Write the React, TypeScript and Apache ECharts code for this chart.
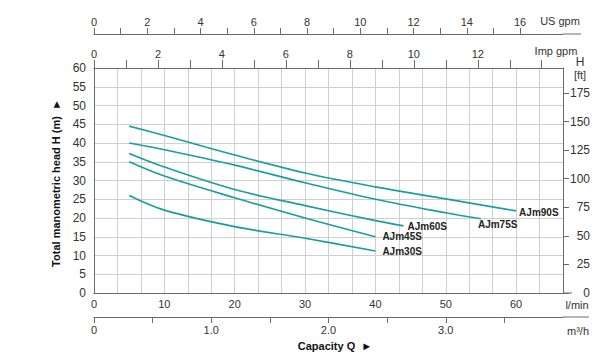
import React, { useEffect, useRef } from "react";
import * as echarts from "echarts";

// Capacity in l/min, head in m
const q90 = [5, 10, 20, 30, 40, 50, 60];
const h90 = [44.5, 42.0, 36.8, 32.0, 28.3, 25.1, 21.9];
const q75 = [5, 10, 20, 30, 40, 50, 55];
const h75 = [40.0, 38.2, 34.1, 29.4, 25.0, 21.4, 19.8];
const q60 = [5, 10, 20, 30, 40, 44];
const h60 = [37.2, 33.6, 27.6, 23.3, 19.3, 17.9];
const q45 = [5, 10, 20, 30, 40];
const h45 = [35.0, 31.2, 25.4, 20.0, 15.0];
const q30 = [5, 10, 20, 30, 40];
const h30 = [26.0, 22.1, 17.7, 14.6, 11.2];

const seriesNames = ["AJm90S", "AJm75S", "AJm60S", "AJm45S", "AJm30S"];

const lminLabels = [0, 10, 20, 30, 40, 50, 60];
const m3hTicks = [0, 0.5, 1, 1.5, 2, 2.5, 3, 3.5];
const m3hLabels = [0, 1, 2, 3];
const usTicks = [0, 1, 2, 3, 4, 5, 6, 7, 8, 9, 10, 11, 12, 13, 14, 15, 16];
const usLabels = [0, 2, 4, 6, 8, 10, 12, 14, 16];
const impTicks = [0, 1, 2, 3, 4, 5, 6, 7, 8, 9, 10, 11, 12, 13, 14];
const impLabels = [0, 2, 4, 6, 8, 10, 12];
const ftTicks = [0, 25, 50, 75, 100, 125, 150, 175];

const LMIN_MAX = 200 / 3; // 4 m3/h
const H_MAX = 60;

const FONT = "'Liberation Sans', Arial, sans-serif";
const AXIS_COLOR = "#6a6a6a";
const GRID_COLOR = "#cfcfcf";
const TEXT_COLOR = "#333";
const CURVE_COLOR = "#1b9ea0";

export default function App() {
  const ref = useRef<HTMLDivElement>(null);

  useEffect(() => {
    if (!ref.current) return;
    const chart = echarts.init(ref.current, undefined, { renderer: "svg" });

    const GL = 94, GT = 68, GR = 563, GB = 293;

    const pairs = [
      [q90, h90],
      [q75, h75],
      [q60, h60],
      [q45, h45],
      [q30, h30],
    ];
    const offsets = [
      [3, 2],
      [-3, 6],
      [4, 1],
      [7, 0],
      [7, 0],
    ];

    const series = pairs.map(([q, h], i) => ({
      name: seriesNames[i],
      type: "line",
      xAxisIndex: 0,
      yAxisIndex: 0,
      data: q.map((x, j) => [x, h[j]]),
      smooth: 0.35,
      showSymbol: false,
      lineStyle: { color: CURVE_COLOR, width: 1.7 },
      itemStyle: { color: CURVE_COLOR },
      endLabel: {
        show: true,
        formatter: seriesNames[i],
        distance: 0,
        offset: offsets[i],
        fontSize: 10,
        fontWeight: "bold",
        color: "#222",
        fontFamily: FONT,
      },
      z: 5,
    }));

    function txt(size: number) {
      return { fontSize: size, fill: TEXT_COLOR, fontFamily: FONT };
    }

    const labelBase = { fontSize: 11, color: TEXT_COLOR, fontFamily: FONT };
    const lineOn = { show: true, onZero: false, lineStyle: { color: AXIS_COLOR, width: 1 } };

    const option: any = {
      animation: false,
      backgroundColor: "#fff",
      grid: { left: GL, top: GT, width: GR - GL, height: GB - GT, containLabel: false },
      xAxis: [
        {
          // l/min main axis
          type: "value",
          position: "bottom",
          min: 0,
          max: LMIN_MAX,
          interval: 10,
          axisLine: lineOn,
          axisTick: { show: false },
          axisLabel: {
            ...labelBase,
            margin: 5,
            customValues: lminLabels,
            formatter: (v: number) => String(Math.round(v)),
          },
          splitLine: { show: false },
        },
        {
          // m3/h secondary axis
          type: "value",
          position: "bottom",
          offset: 24,
          min: 0,
          max: 4,
          interval: 0.5,
          axisLine: lineOn,
          axisTick: { show: true, length: 6, customValues: m3hTicks, lineStyle: { color: AXIS_COLOR } },
          axisLabel: {
            ...labelBase,
            margin: 7,
            customValues: m3hLabels,
            formatter: (v: number) => (v === 0 ? "0" : v.toFixed(1)),
          },
          splitLine: { show: false },
        },
        {
          // gridlines every 0.2 m3/h
          type: "value",
          position: "bottom",
          min: 0,
          max: 4,
          interval: 0.2,
          axisLine: { show: false, onZero: false },
          axisTick: { show: false },
          axisLabel: { show: false },
          splitLine: { show: true, lineStyle: { color: GRID_COLOR, width: 1 } },
        },
        {
          // Imp gpm
          type: "value",
          position: "top",
          offset: 0,
          min: 0,
          max: LMIN_MAX / 4.54609,
          interval: 1,
          axisLine: lineOn,
          axisTick: { show: true, length: 8, customValues: impTicks, lineStyle: { color: AXIS_COLOR } },
          axisLabel: { ...labelBase, margin: 9, customValues: impLabels },
          splitLine: { show: false },
        },
        {
          // US gpm
          type: "value",
          position: "top",
          offset: 34,
          min: 0,
          max: LMIN_MAX / 3.78541,
          interval: 1,
          axisLine: lineOn,
          axisTick: { show: true, length: 6, customValues: usTicks, lineStyle: { color: AXIS_COLOR } },
          axisLabel: { ...labelBase, margin: 7, customValues: usLabels },
          splitLine: { show: false },
        },
      ],
      yAxis: [
        {
          type: "value",
          position: "left",
          min: 0,
          max: H_MAX,
          interval: 5,
          axisLine: lineOn,
          axisTick: { show: false },
          axisLabel: { ...labelBase, fontSize: 12, margin: 8 },
          splitLine: { show: true, lineStyle: { color: GRID_COLOR, width: 1 } },
        },
        {
          type: "value",
          position: "right",
          min: 0,
          max: H_MAX * 3.28084,
          interval: 25,
          axisLine: lineOn,
          axisTick: { show: true, length: 6, customValues: ftTicks, lineStyle: { color: AXIS_COLOR } },
          axisLabel: { ...labelBase, fontSize: 12, margin: 27, align: "right", customValues: ftTicks },
          splitLine: { show: false },
        },
      ],
      graphic: [
        // axis line extensions
        { type: "line", shape: { x1: GR, y1: GB, x2: 572, y2: GB }, style: { stroke: AXIS_COLOR, lineWidth: 1 } },
        { type: "line", shape: { x1: GR, y1: GB + 24, x2: 589, y2: GB + 24 }, style: { stroke: AXIS_COLOR, lineWidth: 1 } },
        { type: "line", shape: { x1: GR, y1: GT - 34, x2: 581, y2: GT - 34 }, style: { stroke: AXIS_COLOR, lineWidth: 1 } },
        // unit labels
        { type: "text", x: 560, y: 21, style: { text: "US gpm", ...txt(11), align: "center", verticalAlign: "middle" } },
        { type: "text", x: 556, y: 51, style: { text: "Imp gpm", ...txt(11), align: "center", verticalAlign: "middle" } },
        { type: "text", x: 580, y: 62, style: { text: "H", ...txt(12), align: "center", verticalAlign: "middle" } },
        { type: "text", x: 580, y: 75, style: { text: "[ft]", ...txt(11), align: "center", verticalAlign: "middle" } },
        { type: "text", x: 577, y: 305, style: { text: "l/min", ...txt(11), align: "center", verticalAlign: "middle" } },
        { type: "text", x: 578, y: 331, style: { text: "m³/h", ...txt(11), align: "center", verticalAlign: "middle" } },
        {
          type: "text",
          x: 335,
          y: 346,
          style: { text: "Capacity Q  ►", ...txt(11), fontWeight: "bold", fill: "#111", align: "center", verticalAlign: "middle" },
        },
        {
          type: "text",
          x: 56,
          y: 183,
          rotation: Math.PI / 2,
          style: {
            text: "Total manometric head H (m)  ►",
            ...txt(11),
            fontWeight: "bold",
            fill: "#111",
            align: "center",
            verticalAlign: "middle",
          },
        },
      ],
      series,
    };

    chart.setOption(option);
    return () => chart.dispose();
  }, []);

  return (
    <div
      ref={ref}
      style={{ position: "fixed", left: 0, top: 0, width: 600, height: 355, background: "#fff" }}
    />
  );
}
